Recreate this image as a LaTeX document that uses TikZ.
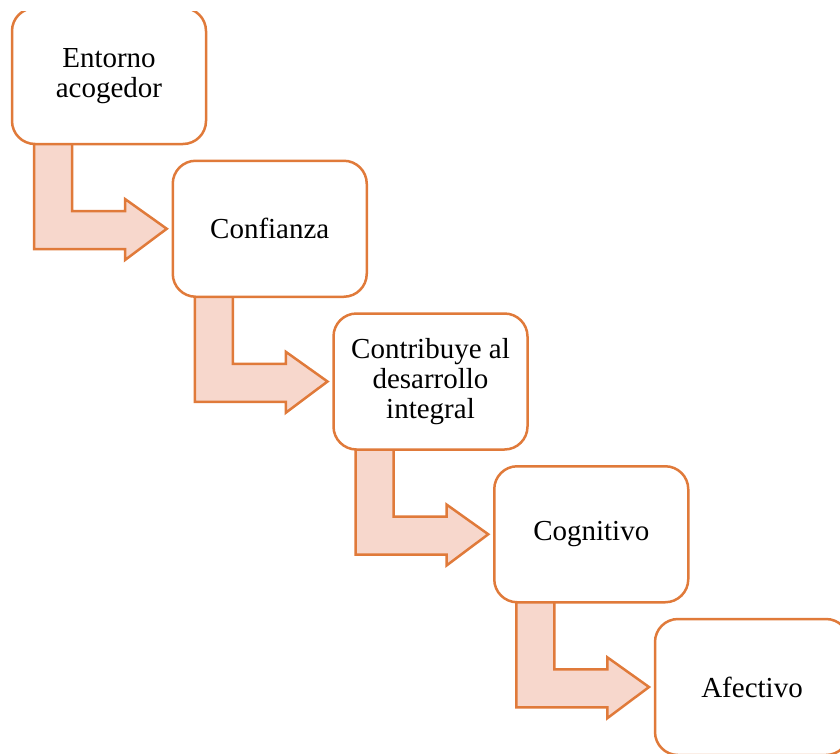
\documentclass[tikz,border=0pt]{standalone}
\usepackage{fontspec}
\setmainfont{Liberation Serif}
\usetikzlibrary{calc,backgrounds}
\definecolor{edgeor}{HTML}{E07A3A}
\definecolor{peach}{HTML}{F7D7CC}
\begin{document}
\begin{tikzpicture}[x=1pt,y=-1pt,
  box/.style={draw=edgeor, line width=2.5pt, fill=white, rounded corners=23pt,
    minimum width=194pt, minimum height=136pt, inner sep=0pt, outer sep=0pt,
    align=center, font=\fontsize{29}{30}\selectfont},
  bent/.style={draw=edgeor, line width=2.5pt, fill=peach, line join=miter}]
\useasboundingbox (0,0) rectangle (840,753);
\clip (0,11) rectangle (840,753);
\node[box] (b1) at (109,76) {Entorno\\acogedor};
\node[box] (b2) at (269.75,228.75) {Confianza};
\node[box] (b3) at (430.5,381.5) {Contribuye al\\desarrollo\\integral};
\node[box] (b4) at (591.25,534.25) {Cognitivo};
\node[box] (b5) at (752,687) {Afectivo};
\begin{scope}[on background layer]
\foreach \a/\b in {b1/b2,b2/b3,b3/b4,b4/b5} {
  \draw[bent] ($(\a.south west)+(22,-5)$) -- ($(\a.south west)+(60,-5)$)
    -- ($(\a.south west)+(60,67)$) -- ($(\a.south west)+(113,67)$)
    -- ($(\a.south west)+(113,55)$) -- ($(\b.west)+(-6,0)$)
    -- ($(\a.south west)+(113,116)$) -- ($(\a.south west)+(113,105)$)
    -- ($(\a.south west)+(22,105)$) -- cycle;
}
\end{scope}
\end{tikzpicture}
\end{document}
